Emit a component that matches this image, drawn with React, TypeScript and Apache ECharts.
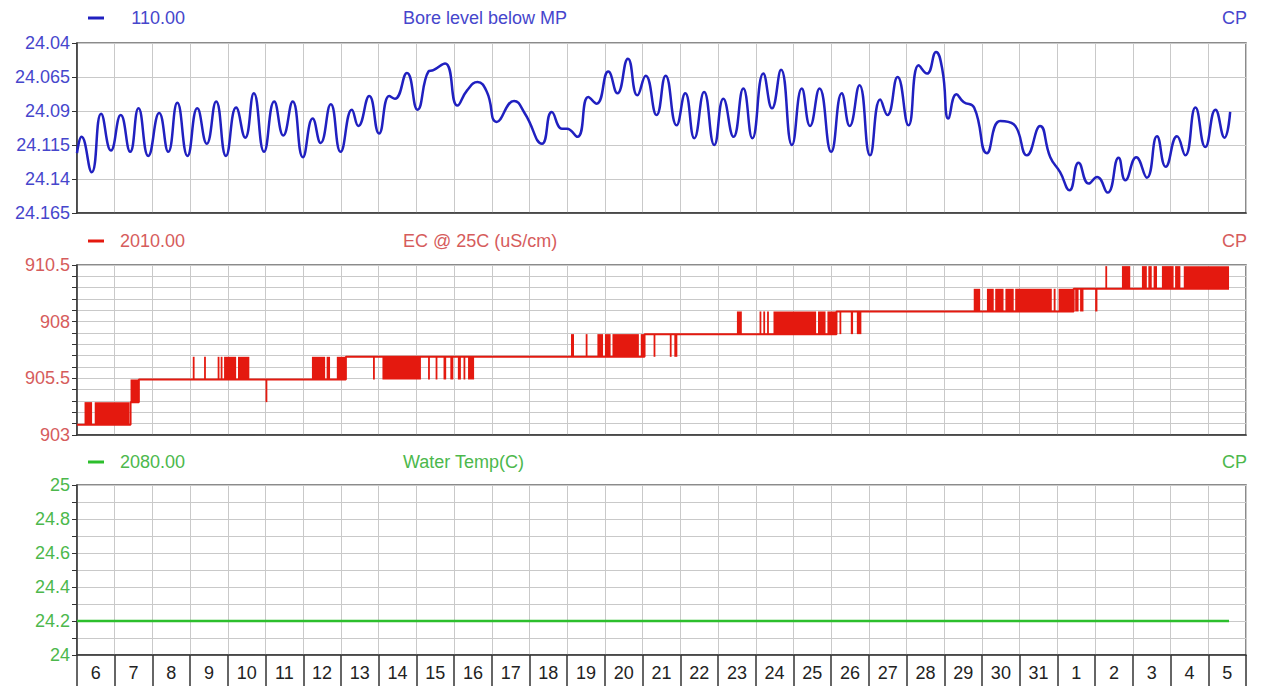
import React, { useEffect, useRef } from 'react';
import * as echarts from 'echarts';

// ---------- data ----------
const dayLabels = ['6','7','8','9','10','11','12','13','14','15','16','17','18','19','20','21','22','23','24','25','26','27','28','29','30','31','1','2','3','4','5'];

// Bore level below MP (days since the 6th)
const boreDays = [
  0, 0.12, 0.39, 0.64, 0.9, 1.16, 1.41, 1.63, 1.89, 2.18, 2.42, 2.66, 2.93, 3.19, 3.44, 3.69, 3.95, 4.22, 4.46, 4.69,
  4.96, 5.23, 5.47, 5.72, 5.99, 6.25, 6.46, 6.73, 6.99, 7.29, 7.46, 7.75, 8.01, 8.28, 8.43, 8.75,
  9.03, 9.32, 9.45, 9.76, 10.09, 10.34, 10.62, 10.87, 11.13, 11.59, 11.88, 12.33, 12.59, 12.86, 12.99, 13.27, 13.56, 13.78,
  14.09, 14.33, 14.61, 14.86, 15.08, 15.37, 15.61, 15.9, 16.13, 16.37, 16.63, 16.9, 17.14, 17.41, 17.67, 17.91, 18.2, 18.43,
  18.67, 18.96, 19.22, 19.44, 19.69, 20.0,
  20.28, 20.49, 20.75, 21.03, 21.3, 21.49, 21.76, 22.05, 22.32, 22.54, 22.78, 22.95, 23.11, 23.32, 23.51, 23.79, 24.13,
  24.48, 24.84, 25.19, 25.54, 25.81, 26.07, 26.32, 26.56, 26.83, 27.05, 27.33, 27.62, 27.8, 28.09, 28.37, 28.64, 28.87,
  29.17, 29.39, 29.66, 29.92, 30.19, 30.43, 30.58,
];
const boreLevels = [
  24.121, 24.109, 24.135, 24.092, 24.119, 24.093, 24.12, 24.088, 24.123, 24.0915, 24.12, 24.084, 24.123, 24.088, 24.114, 24.083, 24.123, 24.0875, 24.1096, 24.077,
  24.12, 24.083, 24.108, 24.083, 24.124, 24.0956, 24.1135, 24.085, 24.12, 24.089, 24.101, 24.079, 24.1066, 24.079, 24.081, 24.062,
  24.089, 24.061, 24.06, 24.055, 24.086, 24.075, 24.0687, 24.076, 24.098, 24.0826, 24.092, 24.114, 24.0907, 24.103, 24.103, 24.109, 24.0797, 24.0846,
  24.061, 24.077, 24.0515, 24.0785, 24.064, 24.093, 24.064, 24.1005, 24.077, 24.11, 24.076, 24.115, 24.081, 24.109, 24.0735, 24.11, 24.0625, 24.088,
  24.0596, 24.115, 24.0735, 24.101, 24.0735, 24.12,
  24.077, 24.101, 24.071, 24.1226, 24.0816, 24.093, 24.065, 24.1005, 24.0564, 24.0625, 24.0466, 24.06, 24.0956, 24.0777, 24.0834, 24.0875, 24.121,
  24.0974, 24.0998, 24.1226, 24.101, 24.124, 24.135, 24.1483, 24.128, 24.1434, 24.1385, 24.15, 24.1243, 24.141, 24.124, 24.139, 24.1086, 24.131,
  24.1086, 24.1226, 24.0875, 24.1165, 24.089, 24.1096, 24.0907,
];

// EC @ 25C: base level (held until the next change) and flicker bursts [start, end, low, high]
const ecStepDays = [0, 1.42, 1.64, 7.13, 15.05, 20.14, 26.43, 30.55];
const ecStepValues = [903.45, 904.45, 905.45, 906.45, 907.45, 908.45, 909.45, 909.45];
const ecBursts: number[][] = [
  [0.2, 0.4, 903.45, 904.45], [0.47, 1.39, 903.45, 904.45], [1.42, 1.64, 904.45, 905.45],
  [3.07, 3.1, 905.45, 906.45], [3.37, 3.4, 905.45, 906.45], [3.73, 3.76, 905.45, 906.45], [3.81, 3.84, 905.45, 906.45],
  [3.9, 4.22, 905.45, 906.45], [4.27, 4.57, 905.45, 906.45], [5.0, 5.04, 904.45, 905.45],
  [6.23, 6.58, 905.45, 906.45], [6.62, 6.71, 905.45, 906.45], [6.89, 7.13, 905.45, 906.45], [7.85, 7.88, 905.45, 906.45],
  [8.1, 9.12, 905.45, 906.45], [9.31, 9.34, 905.45, 906.45], [9.51, 9.55, 905.45, 906.45], [9.72, 9.79, 905.45, 906.45],
  [9.9, 9.98, 905.45, 906.45], [10.1, 10.18, 905.45, 906.45], [10.25, 10.28, 905.45, 906.45], [10.37, 10.53, 905.45, 906.45],
  [13.1, 13.18, 906.45, 907.45], [13.49, 13.52, 906.45, 907.45], [13.8, 13.95, 906.45, 907.45], [14.0, 14.15, 906.45, 907.45],
  [14.2, 14.9, 906.45, 907.45], [14.95, 15.05, 906.45, 907.45], [15.29, 15.32, 906.45, 907.45], [15.72, 15.76, 906.45, 907.45],
  [15.84, 15.92, 906.45, 907.45],
  [17.5, 17.63, 907.45, 908.45], [18.1, 18.13, 907.45, 908.45], [18.2, 18.23, 907.45, 908.45], [18.3, 18.33, 907.45, 908.45],
  [18.47, 19.6, 907.45, 908.45], [19.65, 19.85, 907.45, 908.45], [19.9, 20.14, 907.45, 908.45], [20.22, 20.26, 907.45, 908.45],
  [20.52, 20.58, 907.45, 908.45], [20.68, 20.8, 907.45, 908.45],
  [23.78, 23.95, 908.45, 909.45], [24.13, 24.31, 908.45, 909.45], [24.35, 24.57, 908.45, 909.45], [24.62, 24.84, 908.45, 909.45],
  [24.88, 25.85, 908.45, 909.45], [25.9, 25.95, 908.45, 909.45], [26.03, 26.43, 908.45, 909.45], [26.47, 26.56, 908.45, 909.45],
  [26.6, 26.69, 908.45, 909.45], [27.0, 27.06, 908.45, 909.45],
  [27.27, 27.3, 909.45, 910.45], [27.71, 27.93, 909.45, 910.45], [28.24, 28.37, 909.45, 910.45], [28.41, 28.5, 909.45, 910.45],
  [28.55, 28.64, 909.45, 910.45], [28.77, 29.08, 909.45, 910.45], [29.12, 29.26, 909.45, 910.45], [29.35, 30.55, 909.45, 910.45],
];

// Water Temp (C)
const tempDays = [0, 30.55];
const tempValues = [24.2, 24.2];

// panel header texts
const headerValues = ['110.00', '2010.00', '2080.00'];
const headerNames = ['Bore level below MP', 'EC @ 25C (uS/cm)', 'Water Temp(C)'];
const headerTags = ['CP', 'CP', 'CP'];

// ---------- styles ----------
const FONT = '"Liberation Sans", Arial, Helvetica, sans-serif';
const LINE_COLORS = ['#2020c0', '#e4190f', '#2cbf2c'];
const TEXT_COLORS = ['#4646cc', '#d65c5c', '#4cb84c'];
const GRID_TOPS = [43, 265, 485];
const HEADER_Y = [18, 241, 462];
const GRID_LEFT = 77;
const GRID_W = 1169;
const GRID_H = 170;
const GRID_LINE = '#c9c9c9';
const AXIS = '#333';

export default function App() {
  const ref = useRef<HTMLDivElement>(null);

  useEffect(() => {
    if (!ref.current) return;
    const chart = echarts.init(ref.current, undefined, { renderer: 'svg' });

    const grids = GRID_TOPS.map((top) => ({
      left: GRID_LEFT, top, width: GRID_W, height: GRID_H,
      show: true, borderColor: '#666', borderWidth: 1.5, backgroundColor: '#fff',
    }));

    const valueX = [0, 1, 2].map((i) => ({
      type: 'value', gridIndex: i, min: 0, max: 31, interval: 1,
      axisLabel: { show: false },
      axisTick: { show: i === 2, length: 31, lineStyle: { color: AXIS, width: 1.5 } },
      axisLine: { show: true, lineStyle: { color: AXIS, width: 1.5 } },
      splitLine: { show: true, lineStyle: { color: GRID_LINE, width: 1 } },
    }));

    const labelX = {
      type: 'category', gridIndex: 2, data: dayLabels, boundaryGap: true, position: 'bottom',
      axisLine: { show: false }, axisTick: { show: false }, splitLine: { show: false },
      axisLabel: { interval: 0, color: '#222', fontSize: 18, fontFamily: FONT, margin: 9 },
    };

    const yCommon = (i: number) => ({
      type: 'value', gridIndex: i,
      axisTick: { show: true, length: 5, lineStyle: { color: AXIS, width: 1 } },
      axisLine: { show: true, lineStyle: { color: AXIS, width: 1.5 } },
      splitLine: { show: true, lineStyle: { color: GRID_LINE, width: 1 } },
    });

    const yAxes = [
      {
        ...yCommon(0), min: 24.04, max: 24.165, interval: 0.025, inverse: true,
        axisLabel: { color: TEXT_COLORS[0], fontSize: 18, fontFamily: FONT, margin: 7,
          formatter: (v: number) => String(Number(v.toFixed(3))) },
      },
      {
        ...yCommon(1), min: 903, max: 910.5, interval: 0.5,
        axisLabel: { color: TEXT_COLORS[1], fontSize: 18, fontFamily: FONT, margin: 7,
          formatter: (v: number) => {
            const k = (v - 903) / 2.5;
            return Math.abs(k - Math.round(k)) < 1e-6 ? String(Number(v.toFixed(1))) : '';
          } },
      },
      {
        ...yCommon(2), min: 24, max: 25, interval: 0.1,
        axisLabel: { color: TEXT_COLORS[2], fontSize: 18, fontFamily: FONT, margin: 7,
          formatter: (v: number) => (Math.round(v * 10) % 2 === 0 ? String(Number(v.toFixed(1))) : '') },
      },
    ];

    const graphics: any[] = [];
    for (let i = 0; i < 3; i++) {
      const y = HEADER_Y[i];
      graphics.push({ type: 'rect', silent: true, shape: { x: 88, y: y - 1.5, width: 16, height: 3 }, style: { fill: LINE_COLORS[i] } });
      graphics.push({ type: 'text', silent: true, x: 185, y, style: { text: headerValues[i], fill: TEXT_COLORS[i], font: `18px ${FONT}`, align: 'right', textAlign: 'right', verticalAlign: 'middle', textVerticalAlign: 'middle' } });
      graphics.push({ type: 'text', silent: true, x: 403, y, style: { text: headerNames[i], fill: TEXT_COLORS[i], font: `18px ${FONT}`, align: 'left', textAlign: 'left', verticalAlign: 'middle', textVerticalAlign: 'middle' } });
      graphics.push({ type: 'text', silent: true, x: 1247, y, style: { text: headerTags[i], fill: TEXT_COLORS[i], font: `18px ${FONT}`, align: 'right', textAlign: 'right', verticalAlign: 'middle', textVerticalAlign: 'middle' } });
    }

    chart.setOption({
      animation: false,
      backgroundColor: '#fff',
      grid: grids,
      xAxis: [...valueX, labelX],
      yAxis: yAxes,
      graphic: graphics,
      series: [
        {
          type: 'line', xAxisIndex: 0, yAxisIndex: 0, smooth: 0.5, showSymbol: false, z: 3,
          data: boreDays.map((d, i) => [d, boreLevels[i]]),
          lineStyle: { color: LINE_COLORS[0], width: 2.5 },
        },
        {
          type: 'custom', xAxisIndex: 1, yAxisIndex: 1, z: 3,
          data: ecBursts,
          encode: { x: [0, 1], y: [2, 3] },
          renderItem: (_params: any, api: any) => {
            const p1 = api.coord([api.value(0), api.value(3)]);
            const p2 = api.coord([api.value(1), api.value(2)]);
            const w = Math.max(p2[0] - p1[0], 1.8);
            return {
              type: 'rect',
              shape: { x: p1[0], y: p1[1], width: w, height: p2[1] - p1[1] },
              style: { fill: LINE_COLORS[1] },
            };
          },
        },
        {
          type: 'line', xAxisIndex: 1, yAxisIndex: 1, step: 'end', showSymbol: false, z: 4,
          data: ecStepDays.map((d, i) => [d, ecStepValues[i]]),
          lineStyle: { color: LINE_COLORS[1], width: 2 },
        },
        {
          type: 'line', xAxisIndex: 2, yAxisIndex: 2, showSymbol: false, z: 3,
          data: tempDays.map((d, i) => [d, tempValues[i]]),
          lineStyle: { color: LINE_COLORS[2], width: 2.5 },
        },
      ],
    });

    return () => chart.dispose();
  }, []);

  return <div ref={ref} style={{ position: 'fixed', left: 0, top: 0, width: 1262, height: 686, background: '#fff' }} />;
}
